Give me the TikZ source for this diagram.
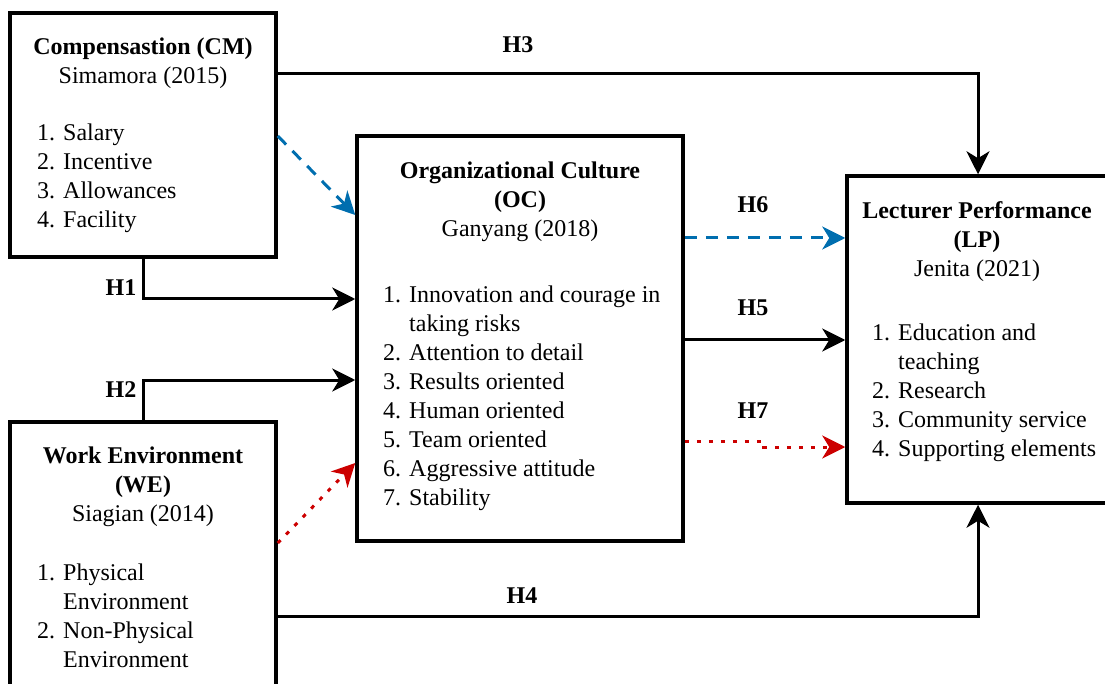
\documentclass[tikz,border=0pt]{standalone}
\usepackage{fontspec}
\setmainfont{Liberation Serif}
\usetikzlibrary{arrows.meta}
\definecolor{hblue}{RGB}{0,110,175}
\definecolor{hred}{RGB}{204,0,0}

\begin{document}
\begin{tikzpicture}[x=1pt,y=-1pt,font=\fontsize{24}{29}\selectfont,
        box/.style={draw,line width=3.5pt,inner sep=0pt},
        txt/.style={inner sep=0pt},
        hyp/.style={line width=3pt,-{Stealth[length=23pt,width=23pt,inset=7pt]}},
        lbl/.style={inner sep=0pt,anchor=base,font=\fontsize{24}{29}\selectfont\bfseries}]
        \useasboundingbox (0,0) rectangle (1105,684);
        % --- variables ---
        \node[box,minimum width=266pt,minimum height=244pt] (cm) at (143,135) {};
        \node[box,minimum width=266pt,minimum height=280pt] (we) at (143,562) {};
        \node[box,minimum width=326pt,minimum height=405pt] (oc) at (520,338.5) {};
        \node[box,minimum width=262pt,minimum height=327pt] (lp) at (978,339.5) {};
        % --- compensation ---
        \node[txt,anchor=north,align=center] (cmtitle) at (143,37.5) {\textbf{Compensastion (CM)}\\Simamora (2015)};
        \node[txt,anchor=north west,align=left] (cmlist) at (37,123.5) {1. Salary\\2. Incentive\\3. Allowances\\4. Facility};
        % --- work environment ---
        \node[txt,anchor=north,align=center] (wetitle) at (143,446.5) {\textbf{Work Environment}\\\textbf{(WE)}\\Siagian (2014)};
        \node[txt,anchor=north west,align=left] (welist) at (37,563.5) {1. Physical\\\phantom{1. }Environment\\2. Non-Physical\\\phantom{2. }Environment};
        % --- organizational culture ---
        \node[txt,anchor=north,align=center] (octitle) at (520,161.5) {\textbf{Organizational Culture}\\\textbf{(OC)}\\Ganyang (2018)};
        \node[txt,anchor=north west,align=left] (oclist) at (383,285.5) {1. Innovation and courage in\\\phantom{1. }taking risks\\2. Attention to detail\\3. Results oriented\\4. Human oriented\\5. Team oriented\\6. Aggressive attitude\\7. Stability};
        % --- lecturer performance ---
        \node[txt,anchor=north,align=center] (lptitle) at (977,201.5) {\textbf{Lecturer Performance}\\\textbf{(LP)}\\Jenita (2021)};
        \node[txt,anchor=north west,align=left] (lplist) at (872,323.5) {1. Education and\\\phantom{1. }teaching\\2. Research\\3. Community service\\4. Supporting elements};
        % --- hypotheses ---
        \draw[hyp] (cm.south) |- (oc.west |- 0,299);
        \draw[hyp] (we.north) |- (oc.west |- 0,380);
        \draw[hyp] (cm.east |- 0,74) -| (lp.north);
        \draw[hyp] (we.east |- 0,616) -| (lp.south);
        \draw[hyp] (oc.east |- 0,340) -- (lp.west |- 0,340);
        \draw[hyp,hblue,dash pattern=on 12pt off 9pt] (oc.east |- 0,238) -- (lp.west |- 0,238);
        \draw[hyp,hred,dash pattern=on 4pt off 8pt] (oc.east |- 0,441) -- ++(79,0) -- ++(0,6) -- (lp.west |- 0,447);
        \draw[hyp,hblue,dash pattern=on 12pt off 9pt] (cm.east |- 0,136) -- (oc.west |- 0,215);
        \draw[hyp,hred,dash pattern=on 4pt off 8pt] (we.east |- 0,543) -- (oc.west |- 0,463);
        \node[lbl] (h1) at (121,296) {H1};
        \node[lbl] (h2) at (121,397) {H2};
        \node[lbl] (h3) at (518,53) {H3};
        \node[lbl] (h4) at (522,603) {H4};
        \node[lbl] (h5) at (753,316) {H5};
        \node[lbl] (h6) at (753,213) {H6};
        \node[lbl] (h7) at (753,418) {H7};
\end{tikzpicture}
\end{document}
